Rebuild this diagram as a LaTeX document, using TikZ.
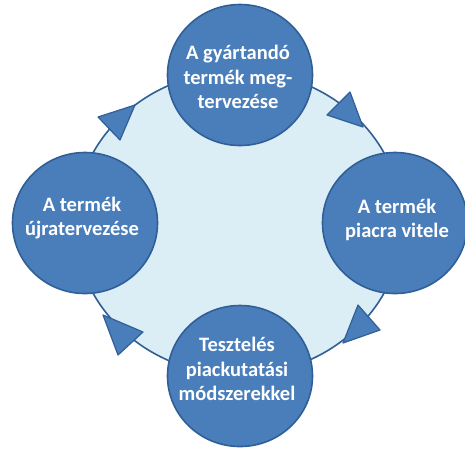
\documentclass[tikz,border=0pt]{standalone}
\usepackage{fontspec}
\setmainfont{Carlito}
\usetikzlibrary{shapes.geometric}
\definecolor{cfill}{HTML}{4A7EBB}
\definecolor{cline}{HTML}{2F5F96}
\definecolor{cbg}{HTML}{DCEEF5}
\begin{document}
\begin{tikzpicture}[x=1pt,y=-1pt,
  blob/.style={ellipse, fill=cfill, draw=cline, line width=1.6pt, minimum width=145pt, minimum height=141pt, inner sep=0pt},
  lbl/.style={text=white, font=\bfseries\fontsize{20.5}{24.5}\selectfont, align=center, inner sep=0pt},
  tri/.style={fill=cfill, draw=cline, line width=1.2pt, line join=round}]
\useasboundingbox (0,0) rectangle (465,448);
\draw[fill=cbg, draw=cline, line width=1.6pt] (238.5,223) ellipse [x radius=164, y radius=152];
\draw[tri] (350,92) -- (327,115) -- (363,127) -- cycle;
\draw[tri] (358,305) -- (380,330) -- (343,343) -- cycle;
\draw[tri] (143,332) -- (118,355) -- (103,315) -- cycle;
\draw[tri] (98,117) -- (120,140) -- (135,105) -- cycle;
\node[blob] (top) at (240,75) {};
\node[blob] (right) at (395,223) {};
\node[blob] (bottom) at (240,376) {};
\node[blob] (left) at (85,223) {};
\node[lbl] (toptext) at (238,77) {A gyártandó\\termék meg-\\tervezése};
\node[lbl] (righttext) at (397,220) {A termék\\piacra vitele};
\node[lbl] (bottomtext) at (237,369) {Tesztelés\\piackutatási\\módszerekkel};
\node[lbl] (lefttext) at (82,218) {A termék\\újratervezése};
\end{tikzpicture}
\end{document}
